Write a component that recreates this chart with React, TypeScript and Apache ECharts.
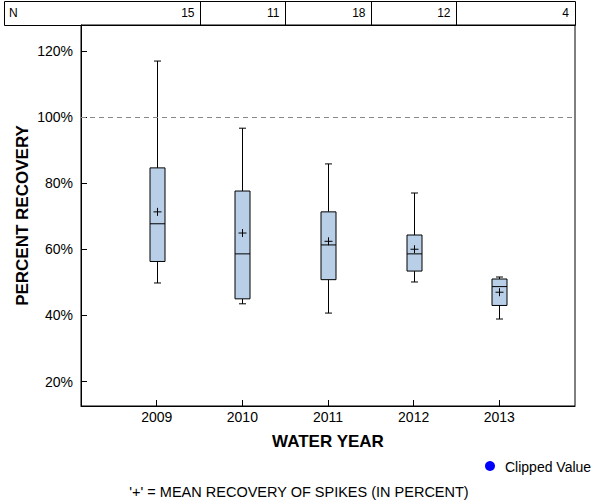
import React, { useEffect, useRef } from 'react';
import * as echarts from 'echarts';

const years = [2009, 2010, 2011, 2012, 2013];
const counts = [15, 11, 18, 12, 4];
const mins = [49.8, 43.5, 40.7, 50.1, 38.9];
const q1s = [56.3, 45.0, 50.8, 53.4, 43.0];
const medians = [67.7, 58.6, 61.3, 58.6, 48.7];
const q3s = [84.6, 77.6, 71.3, 64.3, 51.0];
const maxs = [116.9, 96.6, 85.8, 77.0, 51.6];
const means = [71.3, 64.9, 62.4, 60.0, 47.0];
const yTicks = [20, 40, 60, 80, 100, 120];
const referenceValue = 100;

const FONT = '"Liberation Sans", Arial, sans-serif';

export default function App() {
  const ref = useRef<HTMLDivElement>(null);

  useEffect(() => {
    if (!ref.current) return;
    const chart = echarts.init(ref.current, null, { renderer: 'svg' });

    const boxData = years.map((y, i) => [y, mins[i], q1s[i], medians[i], q3s[i], maxs[i], means[i]]);

    const option: any = {
      animation: false,
      grid: {
        left: 81,
        right: 25,
        top: 25,
        bottom: 94,
        show: true,
        borderColor: '#000',
        borderWidth: 1,
        backgroundColor: 'transparent',
      },
      xAxis: {
        type: 'value',
        min: 2008.116,
        max: 2013.884,
        name: 'WATER YEAR',
        nameLocation: 'middle',
        nameGap: 27,
        nameMoveOverlap: false,
        nameTextStyle: { fontFamily: FONT, fontSize: 17, fontWeight: 'bold', color: '#000' },
        axisLine: { show: true, lineStyle: { color: '#000' } },
        axisTick: { show: true, inside: true, length: 6, customValues: years, lineStyle: { color: '#000' } },
        axisLabel: {
          customValues: years,
          formatter: (v: number) => String(Math.round(v)),
          fontFamily: FONT,
          fontSize: 14,
          color: '#000',
          margin: 4,
        },
        splitLine: { show: false },
      },
      yAxis: {
        type: 'value',
        min: 12.6,
        max: 127.8,
        name: 'PERCENT RECOVERY',
        nameLocation: 'middle',
        nameGap: 50,
        nameMoveOverlap: false,
        nameTextStyle: { fontFamily: FONT, fontSize: 17, fontWeight: 'bold', color: '#000' },
        axisLine: { show: true, lineStyle: { color: '#000' } },
        axisTick: { show: true, inside: true, length: 6, customValues: yTicks, lineStyle: { color: '#000' } },
        axisLabel: {
          customValues: yTicks,
          formatter: (v: number) => Math.round(v) + '%',
          fontFamily: FONT,
          fontSize: 14,
          color: '#000',
          margin: 8,
        },
        splitLine: { show: false },
      },
      series: [
        {
          type: 'custom',
          name: 'Spike recovery',
          data: boxData,
          encode: { x: 0, y: [1, 2, 3, 4, 5, 6] },
          clip: false,
          renderItem: (params: any, api: any) => {
            const x = api.value(0);
            const pMin = api.coord([x, api.value(1)]);
            const pQ1 = api.coord([x, api.value(2)]);
            const pMed = api.coord([x, api.value(3)]);
            const pQ3 = api.coord([x, api.value(4)]);
            const pMax = api.coord([x, api.value(5)]);
            const pMean = api.coord([x, api.value(6)]);
            const cx = Math.round(pMin[0]) + 0.5;
            const hw = 7.5;
            const cap = 3.5;
            const pm = 4;
            const st = { stroke: '#000', lineWidth: 1 };
            const line = (x1: number, y1: number, x2: number, y2: number) => ({
              type: 'line',
              shape: { x1, y1, x2, y2 },
              style: st,
            });
            return {
              type: 'group',
              children: [
                line(cx, pMax[1], cx, pQ3[1]),
                line(cx - cap, pMax[1], cx + cap, pMax[1]),
                line(cx, pQ1[1], cx, pMin[1]),
                line(cx - cap, pMin[1], cx + cap, pMin[1]),
                {
                  type: 'rect',
                  shape: { x: cx - hw, y: pQ3[1], width: hw * 2, height: pQ1[1] - pQ3[1] },
                  style: { fill: '#b9cfe8', stroke: '#000', lineWidth: 1 },
                },
                line(cx - hw, pMed[1], cx + hw, pMed[1]),
                line(cx - pm, pMean[1], cx + pm, pMean[1]),
                line(cx, pMean[1] - pm, cx, pMean[1] + pm),
              ],
            };
          },
          markLine: {
            silent: true,
            symbol: 'none',
            label: { show: false },
            lineStyle: { color: '#888', type: [5, 4], width: 1 },
            data: [{ yAxis: referenceValue }],
          },
        },
      ],
    };

    chart.setOption(option);

    // Top "N" table, columns bounded by half-way points between years
    const tableTop = 1;
    const tableBottom = 25;
    const tableLeft = 4;
    const tableRight = 575;
    const seps = years.slice(0, -1).map((y) => Math.round(chart.convertToPixel({ xAxisIndex: 0 }, y + 0.5) as number) + 0.5);
    const rights = [...seps, tableRight];
    const graphics: any[] = [
      {
        type: 'rect',
        shape: { x: tableLeft + 0.5, y: tableTop + 0.5, width: tableRight - tableLeft, height: tableBottom - tableTop },
        style: { fill: 'none', stroke: '#000', lineWidth: 1 },
      },
      ...seps.map((sx) => ({
        type: 'line',
        shape: { x1: sx, y1: tableTop, x2: sx, y2: tableBottom },
        style: { stroke: '#000', lineWidth: 1 },
      })),
      {
        type: 'text',
        x: 9,
        y: 13,
        style: { text: 'N', fontFamily: FONT, fontSize: 12, fill: '#000', verticalAlign: 'middle', align: 'left' },
      },
      ...counts.map((c, i) => ({
        type: 'text',
        x: rights[i] - 6,
        y: 13,
        style: { text: String(c), fontFamily: FONT, fontSize: 12, fill: '#000', verticalAlign: 'middle', align: 'right' },
      })),
      {
        type: 'circle',
        shape: { cx: 490, cy: 466, r: 5 },
        style: { fill: '#0000ff' },
      },
      {
        type: 'text',
        x: 505,
        y: 467,
        style: { text: 'Clipped Value', fontFamily: FONT, fontSize: 14, fill: '#000', verticalAlign: 'middle', align: 'left' },
      },
      {
        type: 'text',
        x: 299,
        y: 492,
        style: {
          text: "'+' = MEAN RECOVERY OF SPIKES (IN PERCENT)",
          fontFamily: FONT,
          fontSize: 14.5,
          fill: '#000',
          verticalAlign: 'middle',
          align: 'center',
        },
      },
    ];
    chart.setOption({ graphic: graphics });

    return () => chart.dispose();
  }, []);

  return (
    <div
      ref={ref}
      style={{ position: 'fixed', left: 0, top: 0, width: 600, height: 500, background: '#fff' }}
    />
  );
}
